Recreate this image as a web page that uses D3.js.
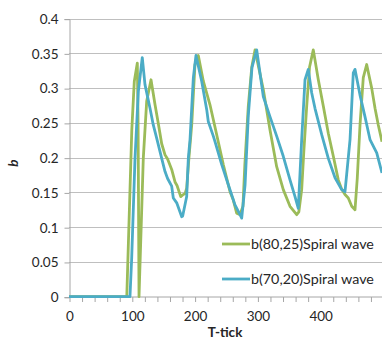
<!DOCTYPE html>
<html>
<head>
<meta charset="utf-8">
<script src="https://cdn.jsdelivr.net/npm/d3@7"></script>
<style>
    body { margin: 0; background: #fff; }
    text { font-family: Lato, "Open Sans", sans-serif; fill: #262626; }
</style>
</head>
<body>
<div id="chart"></div>
<script>
/*
 * Daten (T-tick, b)
 */
var seriesNames = ["b(80,25)Spiral wave", "b(70,20)Spiral wave"];
var seriesColors = ["#9bbb59", "#4bacc6"];

var greenT = [0, 92, 96, 100, 104, 108.8, 110, 111.5, 118.3, 123.7, 130.6, 137, 142.2, 147.6, 152.9,
    157, 163.5, 168.8, 172, 177.9, 182, 184.7, 187.4, 191, 195.4, 200.6, 205.9, 213.9, 224.5, 235.2,
    245.7, 256.4, 261.6, 267, 272.3, 277, 280, 285.5, 291, 296.2, 309.4, 320, 330.7, 341.2, 351.9,
    362.6, 366, 370.5, 374, 378.5, 383, 389, 397, 405, 412.9, 420.9, 428.8, 434, 439.5, 444.7, 450.2,
    455.4, 459, 463.4, 468.6, 474, 482, 487.3, 492.5, 498.4];
var greenB = [0, 0, 0.12, 0.24, 0.31, 0.336, 0.25, 0, 0.199, 0.281, 0.312, 0.276, 0.249, 0.22, 0.204,
    0.198, 0.183, 0.165, 0.16, 0.144, 0.147, 0.148, 0.156, 0.2, 0.247, 0.334, 0.347, 0.31, 0.276, 0.233,
    0.19, 0.151, 0.139, 0.12, 0.118, 0.13, 0.19, 0.274, 0.33, 0.355, 0.298, 0.24, 0.187, 0.154, 0.13,
    0.118, 0.122, 0.154, 0.21, 0.274, 0.33, 0.355, 0.312, 0.274, 0.235, 0.202, 0.168, 0.155, 0.147, 0.142, 0.13,
    0.125, 0.17, 0.247, 0.315, 0.334, 0.3, 0.271, 0.247, 0.223];

var blueT = [0, 97.1, 99.8, 105.1, 110.4, 116.7, 121, 129, 134.2, 139.6, 147.6, 152.9, 157, 163.5,
    166.1, 171.5, 179.5, 181, 187.4, 190, 192.7, 198, 202.2, 211.3, 219.3, 221.8, 229.8, 232.5, 243.2,
    253.7, 264.3, 272.3, 275, 280.3, 285.5, 291.4, 298.9, 309.4, 320, 330.7, 341.2, 351.9, 359.9, 365.1,
    370.5, 375.8, 381, 386.5, 391.7, 402.4, 412.9, 423.6, 434.2, 439.5, 447.5, 452.7, 455.4, 463.4,
    471.3, 479.3, 490, 498.4];
var blueB = [0, 0, 0.055, 0.199, 0.295, 0.344, 0.305, 0.271, 0.247, 0.228, 0.199, 0.18, 0.17, 0.159,
    0.142, 0.135, 0.115, 0.116, 0.144, 0.199, 0.226, 0.315, 0.347, 0.31, 0.269, 0.252, 0.231, 0.223, 0.19,
    0.161, 0.132, 0.118, 0.113, 0.16, 0.26, 0.33, 0.355, 0.288, 0.259, 0.231, 0.202, 0.168, 0.144, 0.127,
    0.226, 0.312, 0.327, 0.293, 0.271, 0.233, 0.199, 0.171, 0.154, 0.151, 0.226, 0.322, 0.327, 0.29,
    0.259, 0.226, 0.207, 0.178];

var xTickLabels = [0, 100, 200, 300, 400];
var xMinorTicks = d3.range(0, 500, 20);
var yTickLabels = ["0", "0.05", "0.1", "0.15", "0.2", "0.25", "0.3", "0.35", "0.4"];

var width = 382, height = 343;
var plot = {left: 69, right: 383, top: 18.6, bottom: 296.7};

var x = d3.scaleLinear().domain([0, 500]).range([plot.left, plot.right]);
var y = d3.scaleLinear().domain([0, 0.4]).range([plot.bottom, plot.top]);

var svg = d3.select("#chart").append("svg")
        .attr("width", width).attr("height", height);

svg.append("defs").append("clipPath").attr("id", "clip")
        .append("rect")
        .attr("x", plot.left).attr("y", 0)
        .attr("width", plot.right - plot.left).attr("height", plot.bottom + 2);

// Gitterlinien
svg.append("g")
        .selectAll("line")
        .data(yTickLabels.slice(1))
        .enter().append("line")
        .attr("x1", plot.left).attr("x2", width)
        .attr("y1", function (d) { return Math.round(y(+d)) + 0.5; })
        .attr("y2", function (d) { return Math.round(y(+d)) + 0.5; })
        .style("stroke", "#bfbfbf").style("stroke-width", 1);

// Y-Achse
var yAxis = d3.axisLeft(y)
        .tickValues(yTickLabels.map(Number))
        .tickFormat(function (d, i) { return yTickLabels[i]; })
        .tickSize(5).tickPadding(6);
var gy = svg.append("g").attr("transform", "translate(" + (plot.left + 0.5) + ",0.5)").call(yAxis);
gy.select(".domain").attr("stroke", "#a6a6a6");
gy.selectAll(".tick line").attr("stroke", "#a6a6a6");
gy.selectAll(".tick text").style("font-size", "13.5px").attr("fill", "#262626")
        .style("font-family", "Lato, sans-serif");

// X-Achse (kleine Striche alle 20)
var xAxis = d3.axisBottom(x)
        .tickValues(xMinorTicks)
        .tickFormat(function (d) { return xTickLabels.indexOf(d) >= 0 ? d : ""; })
        .tickSize(5).tickPadding(9).tickSizeOuter(0);
var gx = svg.append("g").attr("transform", "translate(0.5," + (plot.bottom + 0.3) + ")").call(xAxis);
gx.select(".domain").attr("stroke", "#a6a6a6").attr("d", "M" + plot.left + ",0H" + width);
gx.selectAll(".tick line").attr("stroke", "#a6a6a6");
gx.selectAll(".tick text").style("font-size", "13.5px").attr("fill", "#262626")
        .style("font-family", "Lato, sans-serif");

// Linien
var line = d3.line()
        .x(function (d) { return x(d[0]); })
        .y(function (d) { return y(d[1]); });

var series = [
    d3.zip(greenT, greenB),
    d3.zip(blueT, blueB)
];

svg.append("g").attr("clip-path", "url(#clip)")
        .selectAll("path")
        .data(series)
        .enter().append("path")
        .attr("d", line)
        .style("fill", "none")
        .style("stroke", function (d, i) { return seriesColors[i]; })
        .style("stroke-width", 2.8)
        .style("stroke-linejoin", "round");

// Achsentitel
svg.append("text")
        .attr("x", 225).attr("y", 337)
        .attr("text-anchor", "middle")
        .style("font-size", "13.5px").style("font-weight", "bold")
        .text("T-tick");

svg.append("text")
        .attr("transform", "translate(18,163) rotate(-90)")
        .attr("text-anchor", "middle")
        .style("font-size", "13.5px").style("font-weight", "bold").style("font-style", "italic")
        .text("b");

// Legende
var legend = svg.append("g")
        .selectAll("g")
        .data(seriesNames)
        .enter().append("g")
        .attr("transform", function (d, i) { return "translate(222," + (244 + i * 35) + ")"; });
legend.append("line")
        .attr("x1", 0).attr("x2", 28)
        .style("stroke", function (d, i) { return seriesColors[i]; })
        .style("stroke-width", 2.8);
legend.append("text")
        .attr("x", 29).attr("dy", "0.35em")
        .style("font-size", "14.3px")
        .text(function (d) { return d; });
</script>
</body>
</html>
